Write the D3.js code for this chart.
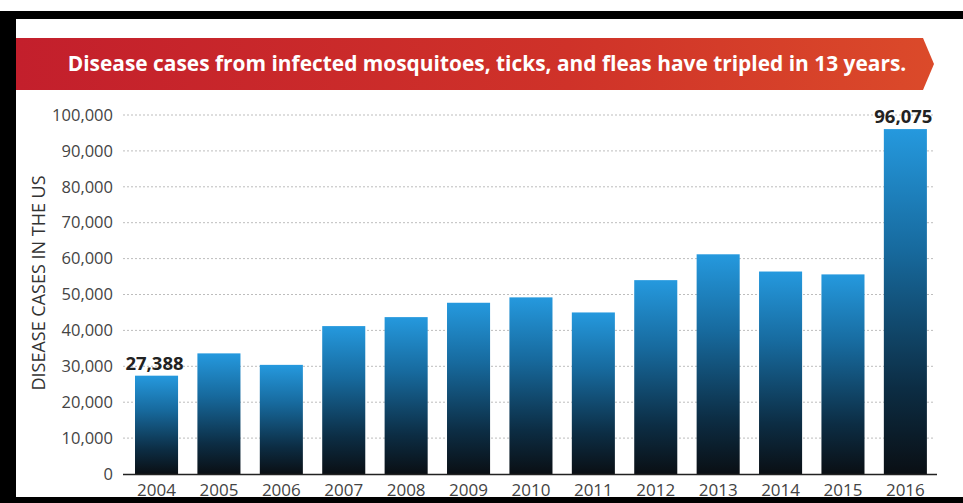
<!DOCTYPE html>
<html><head><meta charset="utf-8">
<script src="https://cdn.jsdelivr.net/npm/d3@7"></script>
<style>
html,body{margin:0;padding:0;background:#fff;}
svg{display:block;}
</style></head>
<body>
<svg id="chart" width="963" height="503"></svg>
<script>
const years = ["2004","2005","2006","2007","2008","2009","2010","2011","2012","2013","2014","2015","2016"];
const cases = [27388,33600,30400,41200,43700,47700,49200,45000,54000,61200,56400,55600,96075];
const yTicks = [0,10000,20000,30000,40000,50000,60000,70000,80000,90000,100000];
const labelled = ["2004","2016"];
const titleText = "Disease cases from infected mosquitoes, ticks, and fleas have tripled in 13 years.";
const yTitle = "DISEASE CASES IN THE US";

const svg = d3.select("#chart");
const W = 963, H = 503;
const defs = svg.append("defs");

const bg = defs.append("linearGradient").attr("id","barGrad").attr("x1",0).attr("y1",0).attr("x2",0).attr("y2",1);
bg.append("stop").attr("offset","0%").attr("stop-color","#2599de");
bg.append("stop").attr("offset","35%").attr("stop-color","#176a9e");
bg.append("stop").attr("offset","75%").attr("stop-color","#0c2d44");
bg.append("stop").attr("offset","100%").attr("stop-color","#0a0f14");

const rg = defs.append("linearGradient").attr("id","banGrad").attr("x1",0).attr("y1",0).attr("x2",1).attr("y2",0);
rg.append("stop").attr("offset","0%").attr("stop-color","#c31f2c");
rg.append("stop").attr("offset","60%").attr("stop-color","#cf3229");
rg.append("stop").attr("offset","100%").attr("stop-color","#db4a2a");

// banner
const banTop = 38, banBot = 90, banX0 = 16, banX1 = 923, banTip = 934;
svg.append("path")
  .attr("d", `M${banX0},${banTop}L${banX1},${banTop}L${banTip},${(banTop+banBot)/2}L${banX1},${banBot}L${banX0},${banBot}Z`)
  .attr("fill","url(#banGrad)");
svg.append("text").attr("x",487).attr("y",71).attr("text-anchor","middle")
  .attr("font-family","'Open Sans', sans-serif").attr("font-weight",700).attr("font-size",20.9)
  .attr("fill","#fff").text(titleText);

// scales
const y = d3.scaleLinear().domain([0,100000]).range([474,115]);
const x = d3.scaleBand().domain(years).range([119.4,942.5]).paddingInner(0.31).paddingOuter(0.25);

// gridlines
const grid = svg.append("g");
grid.selectAll("line").data(yTicks.filter(d=>d>0)).join("line")
  .attr("x1",123).attr("x2",935).attr("y1",d=>y(d)).attr("y2",d=>y(d))
  .attr("stroke","#bdbdbd").attr("stroke-width",1).attr("stroke-dasharray","2,2");

// y axis
const yAxis = d3.axisLeft(y).tickValues(yTicks).tickFormat(d3.format(",")).tickSize(0).tickPadding(0);
const yg = svg.append("g").attr("transform","translate(113,0)").call(yAxis);
yg.select(".domain").remove();
yg.selectAll("text").attr("font-family","'Open Sans', sans-serif").attr("font-size",16.5).attr("fill","#444");

// bars
svg.append("g").selectAll("rect").data(years).join("rect")
  .attr("x",d=>x(d)).attr("width",x.bandwidth())
  .attr("y",(d,i)=>y(cases[i])).attr("height",(d,i)=>y(0)-y(cases[i]))
  .attr("fill","url(#barGrad)");

// baseline
svg.append("line").attr("x1",123).attr("x2",937).attr("y1",y(0)+0.5).attr("y2",y(0)+0.5)
  .attr("stroke","#222").attr("stroke-width",1.5);

// x axis
const xAxis = d3.axisBottom(x).tickSize(0).tickPadding(0);
const xg = svg.append("g").attr("transform",`translate(0,${y(0)+10})`).call(xAxis);
xg.select(".domain").remove();
xg.selectAll("text").attr("font-family","'Open Sans', sans-serif").attr("font-size",17).attr("fill","#444");

// value labels
svg.append("g").selectAll("text").data(years.filter(d=>labelled.includes(d))).join("text")
  .attr("x",d=>x(d)+x.bandwidth()/2-2)
  .attr("y",d=>y(cases[years.indexOf(d)])-6)
  .attr("text-anchor","middle")
  .attr("font-family","'Open Sans', sans-serif").attr("font-weight",700).attr("font-size",18.5)
  .attr("fill","#222")
  .text(d=>d3.format(",")(cases[years.indexOf(d)]));

// y title
svg.append("text").attr("transform","translate(45,283) rotate(-90)").attr("text-anchor","middle")
  .attr("font-family","'Open Sans', sans-serif").attr("font-size",18).attr("fill","#333")
  .text(yTitle);

// frame (drawn last so it overlays)
svg.append("rect").attr("x",8).attr("y",11).attr("width",W-8).attr("height",8).attr("fill","#000");
svg.append("rect").attr("x",0).attr("y",11).attr("width",16).attr("height",H-11).attr("fill","#000");
svg.append("rect").attr("x",0).attr("y",497).attr("width",W).attr("height",6).attr("fill","#000");
</script>
</body></html>
